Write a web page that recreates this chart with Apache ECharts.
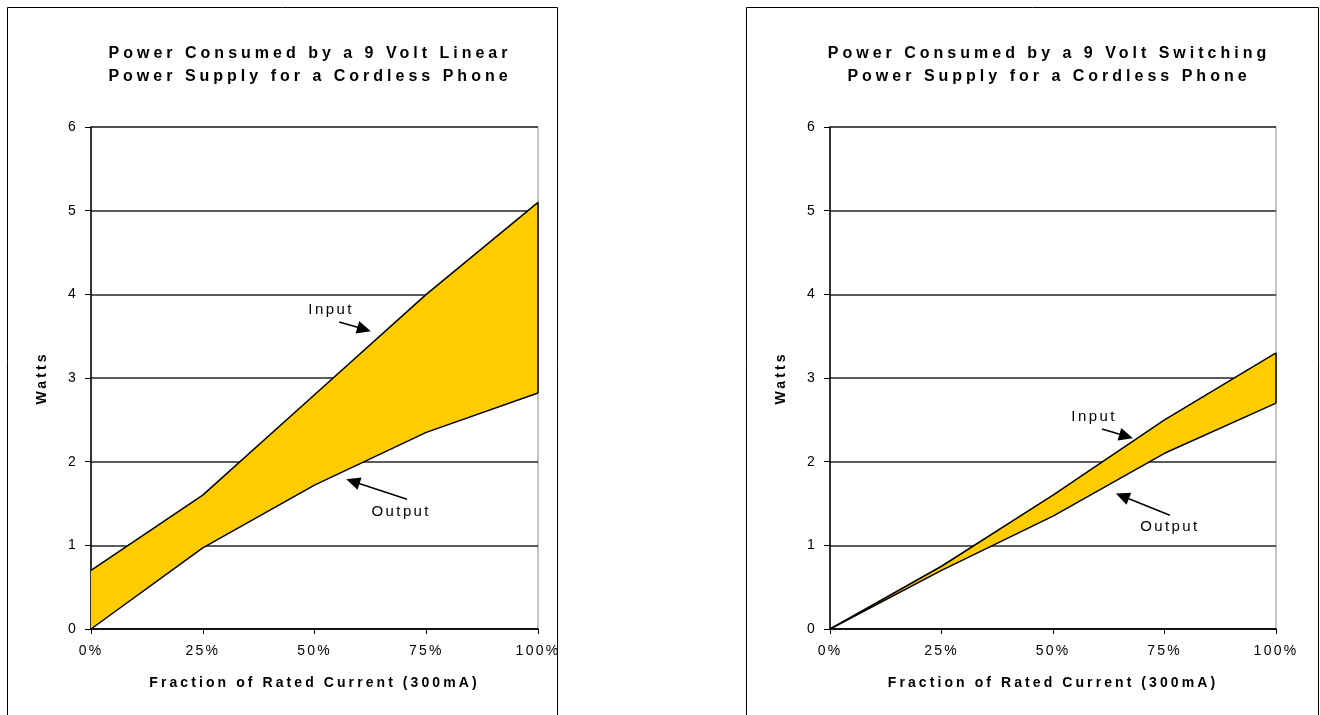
<!DOCTYPE html>
<html>
<head>
<meta charset="utf-8">
<title>Cordless phone power supplies</title>
<script src="https://cdn.jsdelivr.net/npm/echarts@6/dist/echarts.min.js"></script>
<style>
  html, body { margin: 0; padding: 0; background: #fff; }
  #chart { width: 1320px; height: 715px; }
</style>
</head>
<body>
<div id="chart"></div>
<script>
// Fraction of rated current (300 mA) along the x axis
const fractions = [0, 0.25, 0.5, 0.75, 1];
const xTickLabels = ['0%', '25%', '50%', '75%', '100%'];

// Watts drawn from the wall (input) and delivered to the phone (output)
const linearInput = [0.7, 1.6, 2.8, 4.0, 5.1];
const linearOutput = [0, 0.97, 1.72, 2.35, 2.82];
const switchingInput = [0, 0.75, 1.6, 2.5, 3.3];
const switchingOutput = [0, 0.7, 1.35, 2.1, 2.7];

const chartTitles = [
  'Power Consumed by a 9 Volt Linear\nPower Supply for a Cordless Phone',
  'Power Consumed by a 9 Volt Switching\nPower Supply for a Cordless Phone'
];
const xAxisTitle = 'Fraction of Rated Current (300mA)';
const yAxisTitle = 'Watts';

// Callout positions, in data units of each panel: [x fraction, watts]
const callouts = [
  {
    input: { text: [0.537, 3.81], from: [0.555, 3.67], to: [0.626, 3.56] },
    output: { text: [0.694, 1.40], from: [0.707, 1.55], to: [0.571, 1.79] }
  },
  {
    input: { text: [0.592, 2.53], from: [0.610, 2.39], to: [0.679, 2.28] },
    output: { text: [0.762, 1.22], from: [0.762, 1.36], to: [0.641, 1.62] }
  }
];

// Spread the glyphs a little, the way the old spreadsheet renderer did
(function () {
  const proto = CanvasRenderingContext2D.prototype;
  const baseFill = proto.fillText;
  proto.fillText = function (t, x, y, w) {
    const f = this.font || '';
    const m = /(\d+(?:\.\d+)?)px/.exec(f);
    const size = m ? parseFloat(m[1]) : 12;
    const bold = /bold|[6-9]00/.test(f);
    const k = bold ? (size >= 16 ? 0.25 : 0.22) : 0.16;
    if ('letterSpacing' in this) this.letterSpacing = (size * k).toFixed(2) + 'px';
    return w === undefined ? baseFill.call(this, t, x, y) : baseFill.call(this, t, x, y, w);
  };
})();

const FONT = '"Liberation Sans", Arial, sans-serif';
const FILL = '#FFCC00';

const panels = [
  { input: linearInput, output: linearOutput, left: 91, right: 1320 - 538 },
  { input: switchingInput, output: switchingOutput, left: 830, right: 1320 - 1276 }
];

const grids = [], xAxes = [], yAxes = [], series = [];

panels.forEach((p, g) => {
  grids.push({
    left: p.left, right: p.right, top: 127, bottom: 715 - 629,
    show: true, borderColor: '#8c8c8c', borderWidth: 1, backgroundColor: 'transparent'
  });
  xAxes.push({
    type: 'value', gridIndex: g, min: 0, max: 1, interval: 0.25,
    name: xAxisTitle, nameLocation: 'middle', nameGap: 47,
    nameTextStyle: { fontFamily: FONT, fontWeight: 'bold', fontSize: 14, color: '#000' },
    axisLine: { show: true, onZero: false, lineStyle: { color: '#000', width: 1.5 } },
    axisTick: { show: true, inside: false, length: 5, lineStyle: { color: '#000', width: 1 } },
    axisLabel: {
      margin: 15, fontFamily: FONT, fontSize: 14, color: '#000',
      formatter: v => xTickLabels[Math.round(v * 4)]
    },
    splitLine: { show: false }
  });
  yAxes.push({
    type: 'value', gridIndex: g, min: 0, max: 6, interval: 1,
    name: yAxisTitle, nameLocation: 'middle', nameGap: 42, nameRotate: 90,
    nameTextStyle: { fontFamily: FONT, fontWeight: 'bold', fontSize: 14, color: '#000' },
    axisLine: { show: true, lineStyle: { color: '#000', width: 1.5 } },
    axisTick: { show: true, inside: false, length: 6, lineStyle: { color: '#000', width: 1 } },
    axisLabel: { margin: 13, fontFamily: FONT, fontSize: 14, color: '#000' },
    splitLine: { show: true, lineStyle: { color: '#262626', width: 1.6 } }
  });

  // shaded band between input and output: the power lost in the supply
  series.push({
    type: 'custom', xAxisIndex: g, yAxisIndex: g, z: 2, silent: true, animation: false,
    data: fractions.map((f, i) => [f, p.input[i], p.output[i]]),
    renderItem: (params, api) => {
      if (params.dataIndex !== 0) return null;
      const top = fractions.map((f, i) => api.coord([f, p.input[i]]));
      const bottom = fractions.map((f, i) => api.coord([f, p.output[i]])).reverse();
      return {
        type: 'polygon',
        shape: { points: top.concat(bottom) },
        style: { fill: FILL, stroke: 'none' }
      };
    }
  });
  // input curve
  series.push({
    type: 'line', xAxisIndex: g, yAxisIndex: g, z: 4,
    symbol: 'none', silent: true, animation: false,
    lineStyle: { color: '#000', width: 1.5 },
    data: fractions.map((f, i) => [f, p.input[i]])
  });
  // output curve
  series.push({
    type: 'line', xAxisIndex: g, yAxisIndex: g, z: 4,
    symbol: 'none', silent: true, animation: false,
    lineStyle: { color: '#000', width: 1.5 },
    data: fractions.map((f, i) => [f, p.output[i]])
  });
  // closing edge of the band at full rated current
  const last = fractions.length - 1;
  series.push({
    type: 'line', xAxisIndex: g, yAxisIndex: g, z: 4,
    symbol: 'none', silent: true, animation: false,
    lineStyle: { color: '#000', width: 1.5 },
    data: [[fractions[last], p.output[last]], [fractions[last], p.input[last]]]
  });
});

const chart = echarts.init(document.getElementById('chart'), null, { renderer: 'canvas' });
chart.setOption({
  animation: false,
  backgroundColor: '#fff',
  textStyle: { fontFamily: FONT },
  grid: grids, xAxis: xAxes, yAxis: yAxes, series: series
});

// Panel frames, titles and the Input / Output callouts
const graphics = [
  { type: 'rect', silent: true, shape: { x: 7.5, y: 7.5, width: 550, height: 720 },
    style: { fill: 'none', stroke: '#000', lineWidth: 1 } },
  { type: 'rect', silent: true, shape: { x: 746.5, y: 7.5, width: 572, height: 720 },
    style: { fill: 'none', stroke: '#000', lineWidth: 1 } }
];
const titleCenters = [310, 1049];
chartTitles.forEach((t, g) => {
  graphics.push({
    type: 'text', silent: true, x: titleCenters[g], y: 65,
    style: {
      text: t, fill: '#000', font: 'bold 16px ' + FONT, lineHeight: 23,
      align: 'center', verticalAlign: 'middle'
    }
  });
});

function arrow(g, from, to) {
  const a = chart.convertToPixel({ gridIndex: g }, from);
  const b = chart.convertToPixel({ gridIndex: g }, to);
  const dx = b[0] - a[0], dy = b[1] - a[1];
  const len = Math.hypot(dx, dy);
  const ux = dx / len, uy = dy / len;
  const headL = 14, headW = 6.5;
  const bx = b[0] - ux * headL, by = b[1] - uy * headL;
  return [
    { type: 'line', silent: true,
      shape: { x1: a[0], y1: a[1], x2: bx + ux * 2, y2: by + uy * 2 },
      style: { stroke: '#000', lineWidth: 1.5 } },
    { type: 'polygon', silent: true,
      shape: { points: [[b[0], b[1]], [bx - uy * headW, by + ux * headW], [bx + uy * headW, by - ux * headW]] },
      style: { fill: '#000' } }
  ];
}

callouts.forEach((c, g) => {
  [['Input', c.input], ['Output', c.output]].forEach(([label, spec]) => {
    const pt = chart.convertToPixel({ gridIndex: g }, spec.text);
    graphics.push({
      type: 'text', silent: true, x: pt[0], y: pt[1],
      style: { text: label, fill: '#000', font: '15px ' + FONT, align: 'center', verticalAlign: 'middle' }
    });
    graphics.push(...arrow(g, spec.from, spec.to));
  });
});

chart.setOption({ graphic: graphics });
</script>
</body>
</html>
